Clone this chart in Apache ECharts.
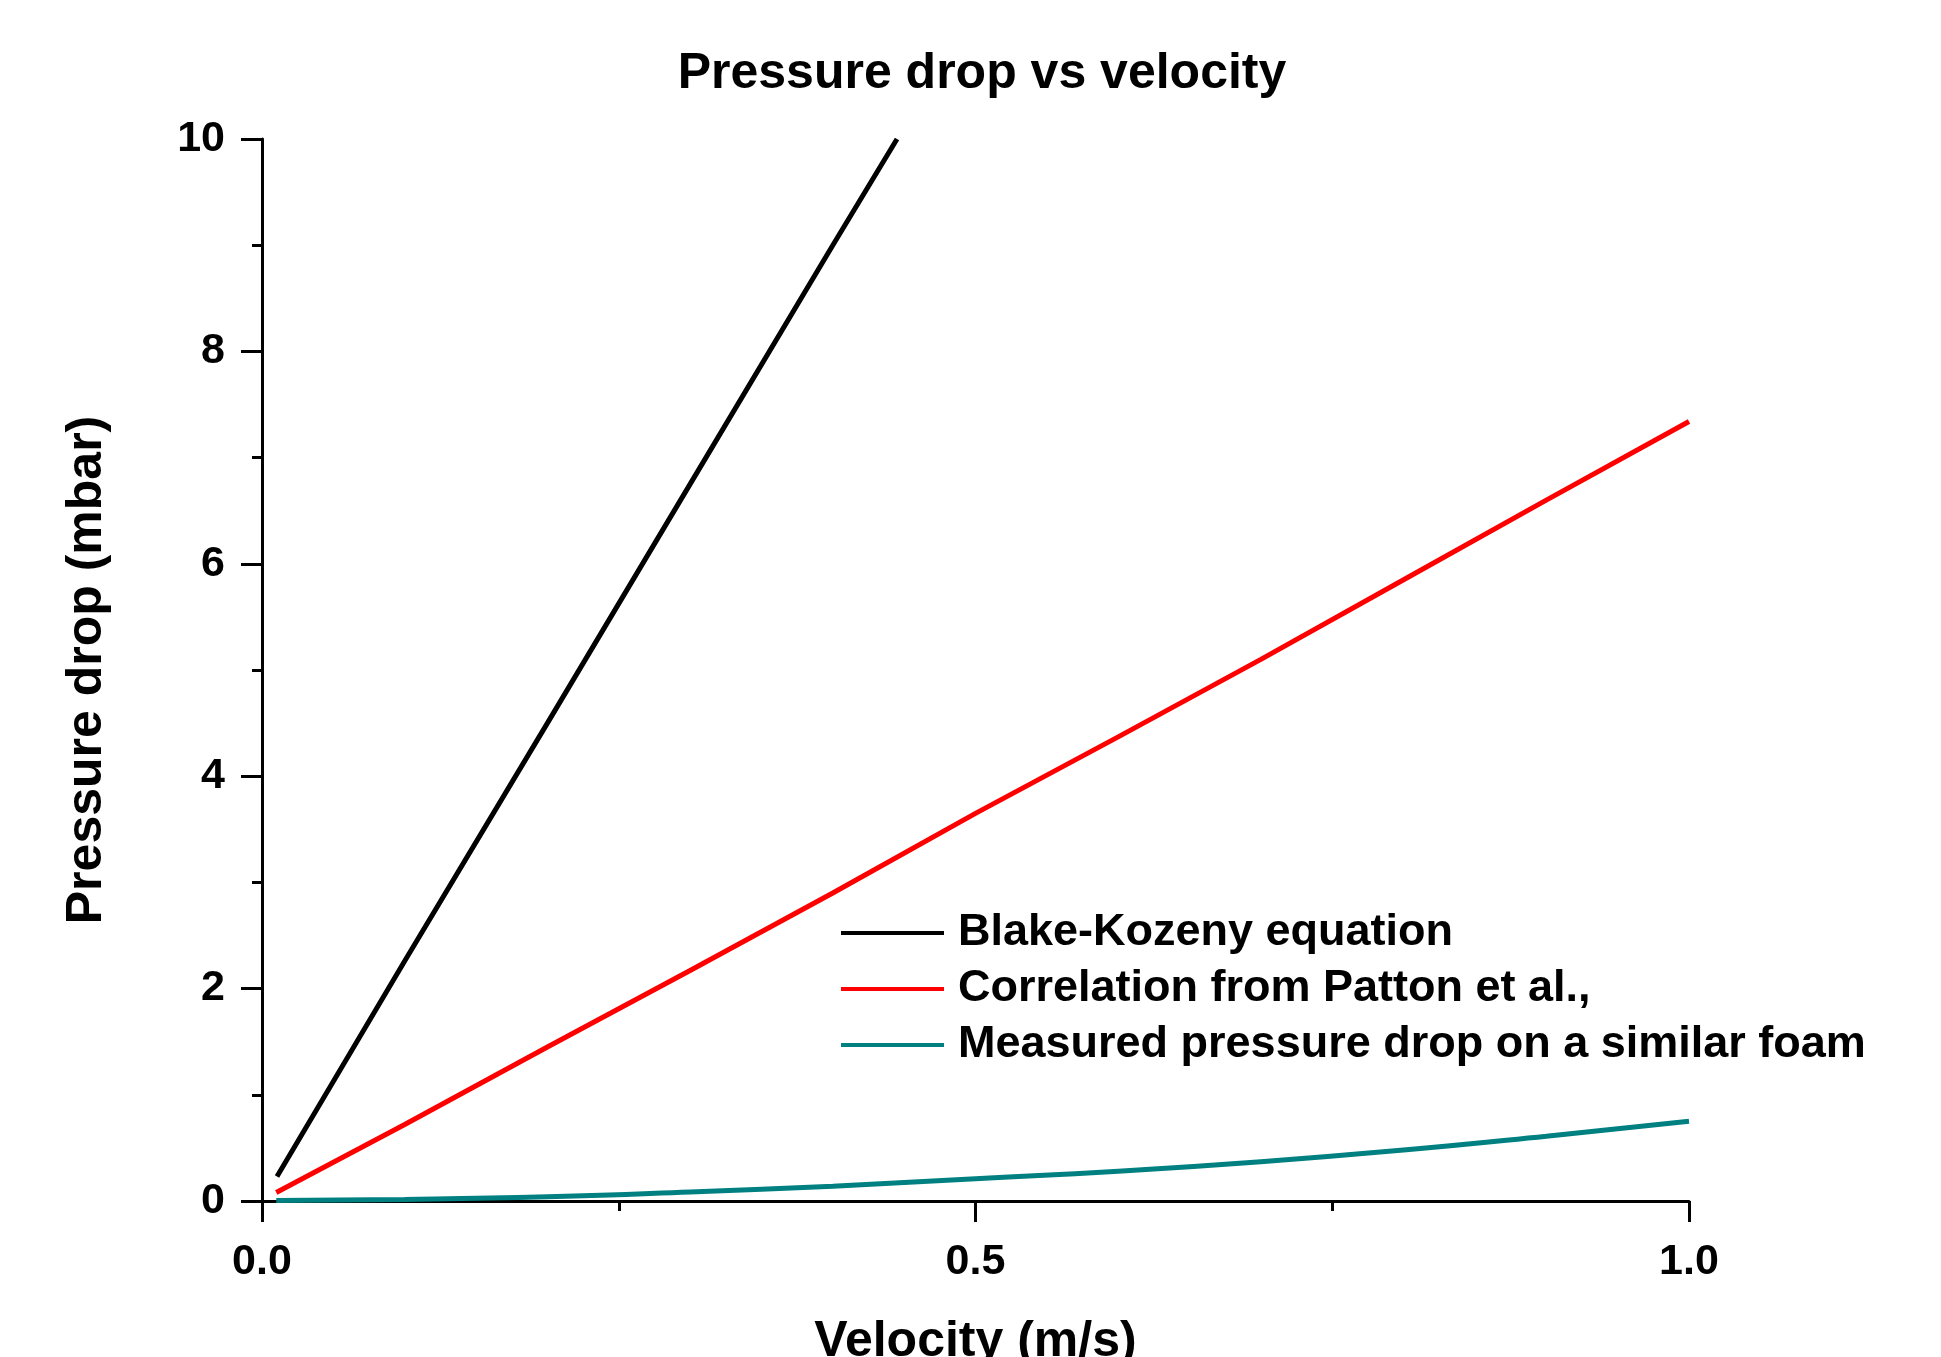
<!DOCTYPE html>
<html>
<head>
<meta charset="utf-8">
<script src="https://cdn.jsdelivr.net/npm/echarts@6/dist/echarts.min.js"></script>
<style>
  html, body { margin: 0; padding: 0; background: #fff; }
  #main { width: 1941px; height: 1357px; }
</style>
</head>
<body>
<div id="main"></div>
<script>
// values (velocity m/s -> pressure drop mbar)
var blakeV = [0.0105, 0.1, 0.2, 0.3, 0.4, 0.445];
var blakeP = [0.23, 2.26, 4.5, 6.75, 9.0, 10.0];

var pattonV = [0.01, 0.1, 0.2, 0.3, 0.4, 0.5, 0.6, 0.7, 0.8, 0.9, 1.0];
var pattonP = [0.08, 0.72, 1.45, 2.17, 2.9, 3.65, 4.37, 5.1, 5.85, 6.6, 7.34];

var measuredV = [0.01, 0.1, 0.2, 0.3, 0.4, 0.5, 0.6, 0.7, 0.8, 0.9, 1.0];
var measuredP = [0.005, 0.015, 0.04, 0.085, 0.14, 0.21, 0.28, 0.37, 0.48, 0.61, 0.75];

var seriesNames = ['Blake-Kozeny equation', 'Correlation from Patton et al.,', 'Measured pressure drop on a similar foam'];
var seriesColors = ['#000000', '#ff0000', '#008080'];

function pairs(xs, ys) {
    var out = [];
    for (var i = 0; i < xs.length; i++) out.push([xs[i], ys[i]]);
    return out;
}

var FONT = '"Liberation Sans", Arial, sans-serif';

var myChart = echarts.init(document.getElementById('main'));
var option = {
    backgroundColor: '#ffffff',
    animation: false,
    title: {
        text: 'Pressure drop vs velocity',
        left: 977,
        textAlign: 'center',
        top: 44,
        textStyle: { fontFamily: FONT, fontWeight: 'bold', fontSize: 50, color: '#000' }
    },
    legend: {
        orient: 'vertical',
        left: 836,
        top: 905,
        icon: 'rect',
        itemWidth: 103,
        itemHeight: 4,
        itemGap: 10,
        data: seriesNames,
        textStyle: {
            fontFamily: FONT, fontWeight: 'bold', fontSize: 45, color: '#000',
            lineHeight: 46, padding: [0, 0, 0, 9]
        }
    },
    grid: { left: 262, right: 252, top: 139, bottom: 156, containLabel: false, outerBoundsMode: 'none' },
    xAxis: {
        type: 'value',
        min: 0, max: 1, interval: 0.5,
        name: 'Velocity (m/s)',
        nameLocation: 'middle',
        nameGap: 116,
        nameTextStyle: { fontFamily: FONT, fontWeight: 'bold', fontSize: 50, color: '#000' },
        axisLine: { lineStyle: { color: '#000', width: 3 } },
        axisTick: { show: true, length: 21, lineStyle: { color: '#000', width: 3 } },
        minorTick: { show: true, splitNumber: 2, length: 10, lineStyle: { color: '#000', width: 3 } },
        splitLine: { show: false },
        axisLabel: {
            margin: 40,
            fontFamily: FONT, fontWeight: 'bold', fontSize: 43, color: '#000',
            formatter: function (v) { return v.toFixed(1); }
        }
    },
    yAxis: {
        type: 'value',
        min: 0, max: 10, interval: 2,
        name: 'Pressure drop (mbar)',
        nameLocation: 'middle',
        nameGap: 150,
        nameTextStyle: { fontFamily: FONT, fontWeight: 'bold', fontSize: 50, color: '#000' },
        axisLine: { show: true, lineStyle: { color: '#000', width: 3 } },
        axisTick: { show: true, length: 21, lineStyle: { color: '#000', width: 3 } },
        minorTick: { show: true, splitNumber: 2, length: 10, lineStyle: { color: '#000', width: 3 } },
        splitLine: { show: false },
        axisLabel: {
            margin: 37,
            fontFamily: FONT, fontWeight: 'bold', fontSize: 43, color: '#000'
        }
    },
    series: [
        {
            name: seriesNames[0], type: 'line', data: pairs(blakeV, blakeP),
            showSymbol: false, color: seriesColors[0],
            lineStyle: { width: 5, color: seriesColors[0] }
        },
        {
            name: seriesNames[1], type: 'line', data: pairs(pattonV, pattonP),
            showSymbol: false, color: seriesColors[1],
            lineStyle: { width: 5, color: seriesColors[1] }
        },
        {
            name: seriesNames[2], type: 'line', data: pairs(measuredV, measuredP),
            showSymbol: false, smooth: true, color: seriesColors[2],
            lineStyle: { width: 5, color: seriesColors[2] }
        }
    ]
};
myChart.setOption(option);
</script>
</body>
</html>
